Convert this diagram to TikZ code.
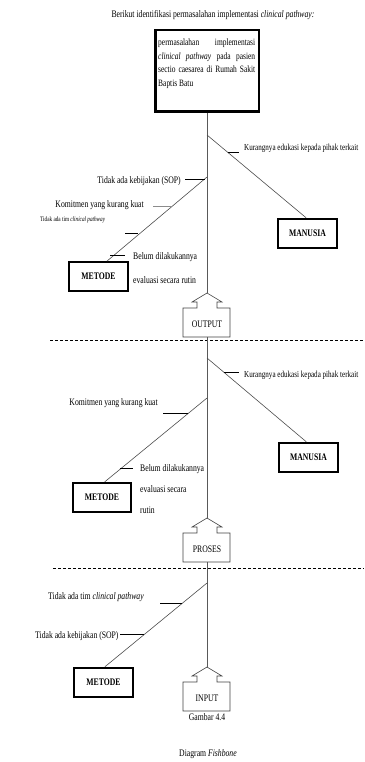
\documentclass[tikz,border=0pt]{standalone}
\usepackage{fontspec}
\setmainfont{Liberation Serif}[FakeStretch=0.77]
\usetikzlibrary{calc}
\newcommand\fbcallout[3]{% #1 tip y, #2 name, #3 label
  \coordinate (#2tip) at (207,#1);
  \coordinate (#2bot) at (207,#1+44);
  \draw[calloutline] (#2tip) -- (222,#1+9) -- (217,#1+9) -- (217,#1+15) -- (230,#1+15)
     -- (230,#1+44) -- (183,#1+44) -- (183,#1+15) -- (197,#1+15) -- (197,#1+9)
     -- (192,#1+9) -- cycle;
  \node[lbl] (#2lbl) at (207,#1+31) {#3};
}
\newcommand\jline[1]{\makebox[97pt][s]{#1}}
\begin{document}
\begin{tikzpicture}[x=1pt,y=-1pt,
  lbl/.style={inner sep=0pt,font=\fontsize{10}{12}\selectfont},
  klbl/.style={inner sep=0pt,font=\fontsize{9.2}{11}\selectfont},
  bigbox/.style={draw,line width=2.5pt,inner sep=0pt},
  catbox/.style={draw,line width=2.4pt,inner sep=0pt,minimum width=58.5pt,minimum height=29pt,font=\fontsize{10}{12}\selectfont\bfseries},
  spine/.style={draw=black!65,line width=0.6pt},
  bone/.style={draw=black!70,line width=0.6pt},
  tick/.style={draw=black,line width=0.8pt},
  gtick/.style={draw=black!45,line width=0.9pt},
  calloutline/.style={draw=black!75,line width=0.6pt},
  dline/.style={draw=black,line width=0.8pt,dash pattern=on 3pt off 2pt}]
\useasboundingbox (0,0) rectangle (364,762);

% title and problem box
\node[lbl] (title) at (213,15) {Berikut identifikasi permasalahan implementasi \textit{clinical pathway:}};
\node[bigbox,minimum width=103.5pt,minimum height=81.5pt] (prob) at (207,71) {};
\node[anchor=north west,inner sep=0pt,align=left,font=\fontsize{9.7}{13.7}\selectfont] (probtxt) at (158,38.5)
  {\jline{permasalahan implementasi}\\\jline{\textit{clinical pathway} pada pasien}\\\jline{sectio caesarea di Rumah Sakit}\\Baptis Batu};

% ---------- section 1 (OUTPUT) ----------
\fbcallout{293}{out}{OUTPUT}
\coordinate (j1r) at (207,135);
\coordinate (j1l) at (207,177);
\draw[spine] (prob.south) -- (outtip);
\node[catbox] (man1) at (307.5,233.5) {MANUSIA};
\node[catbox,minimum height=28.5pt] (met1) at (98.5,276.5) {METODE};
\draw[bone] (j1r) -- (man1.95);
\draw[bone] (j1l) -- (met1.61);
% ticks
\coordinate (k1a) at (227.5,152); \coordinate (k1b) at (239,152);
\draw[tick] (k1a) -- (k1b);
\node[klbl,anchor=west] (l1a) at (244,148) {Kurangnya edukasi kepada pihak terkait};
\coordinate (k1c) at (185,179); \coordinate (k1d) at (204.5,179);
\draw[tick] (k1c) -- (k1d);
\node[lbl,anchor=east] (l1c) at (181,181) {Tidak ada kebijakan (SOP)};
\coordinate (k1e) at (153,206); \coordinate (k1f) at (171.2,206);
\draw[gtick] (k1e) -- (k1f);
\node[lbl,anchor=east] (l1e) at (144,205) {Komitmen yang kurang kuat};
\coordinate (k1g) at (125,233); \coordinate (k1h) at (137.9,233);
\draw[tick] (k1g) -- (k1h);
\node[inner sep=0pt,anchor=west,font=\fontsize{6.8}{8}\selectfont] (l1g) at (40,220) {Tidak ada tim \textit{clinical pathway}};
\coordinate (k1i) at (110,255.5); \coordinate (k1j) at (125,255.5);
\draw[tick] (k1i) -- (k1j);
\node[lbl,anchor=north west,align=left,font=\fontsize{10}{24}\selectfont] (l1i) at (133,252) {Belum dilakukannya\\evaluasi secara rutin};

\draw[dline] (50,340) coordinate (d1a) -- (364,340) coordinate (d1b);

% ---------- section 2 (PROSES) ----------
\fbcallout{518}{pros}{PROSES}
\draw[spine] (outbot) -- (prostip);
\coordinate (j2r) at (207,358);
\coordinate (j2l) at (207,398);
\node[catbox] (man2) at (308.5,457.5) {MANUSIA};
\node[catbox] (met2) at (102,497.5) {METODE};
\draw[bone] (j2r) -- (man2.98);
\draw[bone] (j2l) -- (met2.80);
\coordinate (k2a) at (223.9,372); \coordinate (k2b) at (239,372);
\draw[tick] (k2a) -- (k2b);
\node[klbl,anchor=west] (l2a) at (244,375) {Kurangnya edukasi kepada pihak terkait};
\coordinate (k2c) at (163,413); \coordinate (k2d) at (188.3,413);
\draw[tick] (k2c) -- (k2d);
\node[lbl,anchor=east] (l2c) at (158,403) {Komitmen yang kurang kuat};
\coordinate (k2e) at (119.9,468); \coordinate (k2f) at (133,468);
\draw[tick] (k2e) -- (k2f);
\node[lbl,anchor=north west,align=left,font=\fontsize{10}{21}\selectfont] (l2e) at (140,464) {Belum dilakukannya\\evaluasi secara\\rutin};

\draw[dline] (53,568) coordinate (d2a) -- (364,568) coordinate (d2b);

% ---------- section 3 (INPUT) ----------
\fbcallout{667}{inp}{INPUT}
\draw[spine] (prosbot) -- (inptip);
\coordinate (j3l) at (207,583);
\node[catbox] (met3) at (103.5,682.5) {METODE};
\draw[bone] (j3l) -- (met3.85);
\coordinate (k3a) at (160,603); \coordinate (k3b) at (182.1,603);
\draw[tick] (k3a) -- (k3b);
\node[lbl,anchor=west] (l3a) at (48,597) {Tidak ada tim \textit{clinical pathway}};
\coordinate (k3c) at (120,634); \coordinate (k3d) at (143.6,634);
\draw[tick] (k3c) -- (k3d);
\node[lbl,anchor=west] (l3c) at (35,636) {Tidak ada kebijakan (SOP)};

% captions
\node[lbl] (cap1) at (207,717) {Gambar 4.4};
\node[lbl] (cap2) at (208,754) {Diagram \textit{Fishbone}};
\end{tikzpicture}
\end{document}
